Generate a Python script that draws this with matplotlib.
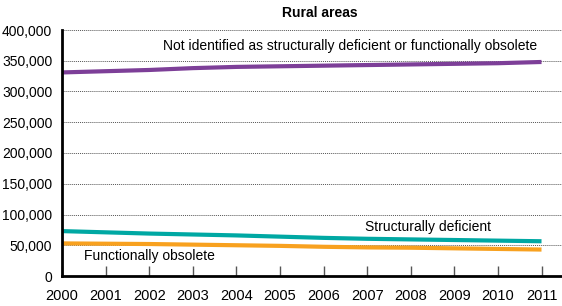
import matplotlib
matplotlib.use("Agg")
import matplotlib.pyplot as plt
from matplotlib.ticker import FuncFormatter
from matplotlib import font_manager

# Data
years = [2000, 2001, 2002, 2003, 2004, 2005, 2006, 2007, 2008, 2009, 2010, 2011]
not_deficient = [331000, 333000, 335000, 338000, 340000, 341000,
                 342000, 343000, 344000, 345000, 346000, 348000]
structurally_deficient = [73000, 71000, 69000, 67500, 66000, 64000,
                          62000, 60500, 59500, 58500, 57500, 56500]
functionally_obsolete = [53000, 52500, 52000, 51000, 50000, 49000,
                         47500, 46500, 46000, 45000, 44000, 43000]
y_ticks = [0, 50000, 100000, 150000, 200000, 250000, 300000, 350000, 400000]

names = {f.name for f in font_manager.fontManager.ttflist}
family = "Liberation Sans Narrow" if "Liberation Sans Narrow" in names else "Liberation Sans"
plt.rcParams["font.family"] = [family, "DejaVu Sans"]

fig = plt.figure(figsize=(5.62, 3.06), dpi=100)
ax = fig.add_axes([62 / 562, 30 / 306, 500 / 562, 246 / 306])

ax.plot(years, not_deficient, color="#7d3f98", lw=3, solid_capstyle="butt")
ax.plot(years, structurally_deficient, color="#00a8a3", lw=3, solid_capstyle="butt")
ax.plot(years, functionally_obsolete, color="#f8a11f", lw=3, solid_capstyle="butt")

ax.set_xlim(2000, 2011.47)
ax.set_ylim(0, 400000)
ax.set_xticks(years)
ax.set_yticks(y_ticks)
ax.yaxis.set_major_formatter(FuncFormatter(lambda v, p: f"{int(v):,}"))

ax.grid(axis="y", linestyle=(0, (1, 1)), color="#555555", lw=0.7)
ax.set_axisbelow(True)
for s in ["top", "right"]:
    ax.spines[s].set_visible(False)
ax.spines["left"].set_linewidth(2)
ax.spines["bottom"].set_linewidth(2)
ax.tick_params(axis="x", direction="in", length=7, width=1, color="#555555",
               labelsize=10.5, pad=9)
ax.tick_params(axis="y", length=0, labelsize=10, pad=7)

ax.text(2006.6, 374000, "Not identified as structurally deficient or functionally obsolete",
        ha="center", va="center", fontsize=10)
ax.text(2008.4, 80000, "Structurally deficient", ha="center", va="center", fontsize=10)
ax.text(2002.0, 32500, "Functionally obsolete", ha="center", va="center", fontsize=10)

fig.text(320 / 562, 1 - 13 / 306, "Rural areas", ha="center", va="center",
         fontsize=10, fontweight="bold")

fig.savefig("out.png", dpi=100)
